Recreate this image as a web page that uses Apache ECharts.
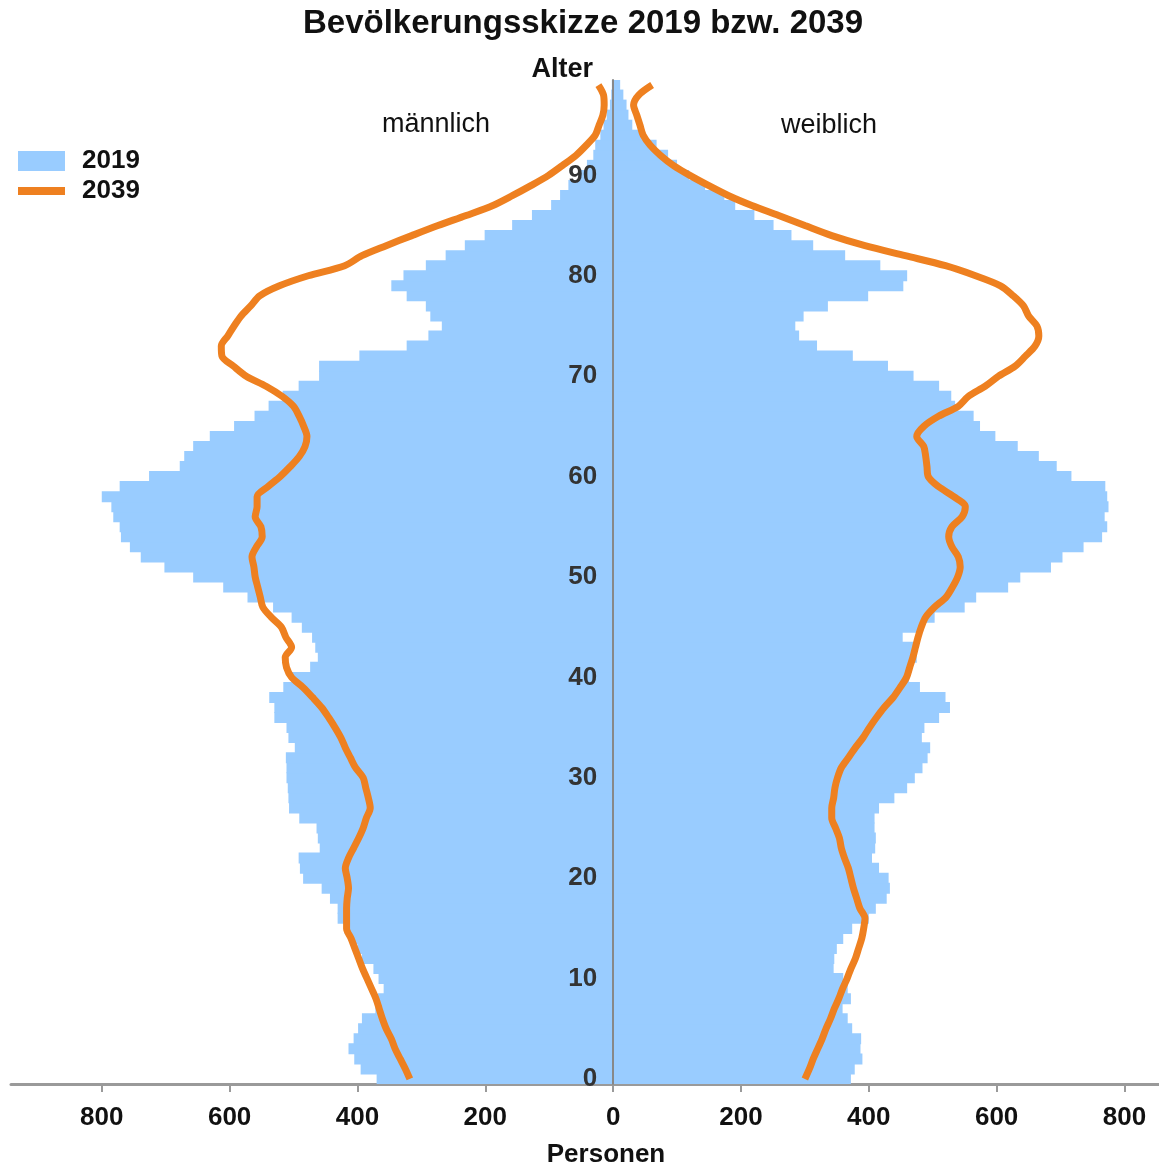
<!DOCTYPE html>
<html lang="de">

<head>
    <meta charset="UTF-8">
    <title>Bevölkerungsskizze 2019 bzw. 2039</title>
    <script src="https://cdn.jsdelivr.net/npm/echarts@6.0.0/dist/echarts.min.js"></script>
    <style>
        html, body { margin: 0; padding: 0; background: #fff; }
        #main { width: 1159px; height: 1165px; }
    </style>
</head>

<body>
    <div id="main"></div>

    <script type="text/javascript">
        // Alter 0..99
        const ages = [];
        for (let i = 0; i < 100; i++) ages.push(String(i));

        // 2019, Personen je Altersjahr
        const male2019 = [
            370, 395, 405, 414, 406, 399, 393, 372, 368, 359,
            367, 375, 393, 400, 408, 420, 431, 431, 443, 456,
            485, 490, 492, 459, 462, 464, 491, 507, 508, 509,
            511, 511, 512, 498, 508, 511, 530, 530, 538, 516,
            503, 474, 462, 466, 471, 487, 503, 532, 572, 610,
            657, 702, 739, 756, 770, 772, 782, 785, 800, 772,
            726, 678, 671, 657, 631, 593, 561, 539, 517, 492,
            460, 460, 397, 323, 289, 268, 286, 293, 323, 347,
            328, 293, 262, 232, 201, 158, 127, 97, 83, 70,
            54, 41, 31, 28, 20, 15, 10, 5, 3, 2
        ];
        const female2019 = [
            372, 378, 390, 387, 388, 374, 367, 359, 372, 367,
            360, 345, 346, 350, 360, 374, 400, 411, 428, 433,
            431, 416, 405, 410, 411, 409, 409, 416, 440, 460,
            472, 484, 492, 496, 483, 487, 510, 527, 520, 480,
            463, 467, 475, 475, 453, 480, 503, 550, 568, 618,
            637, 685, 703, 736, 765, 773, 769, 775, 773, 770,
            717, 694, 666, 633, 598, 574, 564, 535, 529, 510,
            470, 430, 375, 319, 291, 285, 298, 336, 399, 454,
            460, 418, 363, 313, 279, 251, 221, 191, 174, 144,
            119, 100, 86, 68, 45, 30, 24, 21, 16, 11
        ];

        // 2039 (Vorausberechnung)
        const male2039 = [
            318, 325, 333, 341, 347, 355, 361, 366, 371, 378,
            385, 392, 398, 404, 410, 417, 417, 417, 416, 414,
            416, 419, 414, 406, 398, 391, 386, 380, 383, 387,
            391, 403, 411, 419, 426, 435, 445, 456, 470, 485,
            503, 511, 513, 503, 512, 519, 535, 548, 552, 556,
            560, 562, 565, 558, 549, 551, 560, 557, 557, 540,
            521, 505, 491, 482, 479, 484, 491, 500, 518, 543,
            574, 594, 612, 613, 603, 593, 582, 567, 553, 522,
            477, 420, 393, 355, 315, 274, 230, 188, 157, 128,
            101, 79, 58, 42, 28, 22, 16, 14, 15, 23
        ];
        const female2039 = [
            300, 307, 313, 320, 327, 333, 340, 346, 353, 359,
            366, 372, 379, 384, 389, 392, 394, 386, 381, 376,
            372, 368, 362, 357, 354, 348, 342, 342, 345, 347,
            351, 357, 368, 379, 391, 401, 412, 424, 438, 449,
            459, 464, 469, 473, 477, 482, 489, 503, 521, 531,
            539, 543, 540, 530, 525, 530, 546, 551, 533, 509,
            493, 491, 489, 486, 475, 486, 509, 540, 556, 582,
            603, 629, 645, 660, 666, 663, 650, 642, 626, 606,
            567, 520, 457, 394, 342, 300, 259, 217, 180, 149,
            120, 94, 74, 58, 47, 42, 37, 32, 40, 61
        ];

        const xTicks = [-800, -600, -400, -200, 0, 200, 400, 600, 800];

        const font = 'Liberation Sans, Arial, sans-serif';
        const blue = '#99ccff';
        const orange = '#ee8020';

        // x-Achse von -942 bis 854, Nullpunkt liegt 602px rechts vom Gitterrand
        const xMin = -942, xMax = 854;
        const gridLeft = 11, gridRight = 0;
        const zeroOffset = (1159 - gridLeft - gridRight) * (-xMin) / (xMax - xMin);

        var myChart = echarts.init(document.getElementById('main'));

        option = {
            animation: false,
            textStyle: { fontFamily: font },
            title: {
                text: 'Bevölkerungsskizze 2019 bzw. 2039',
                left: 298,
                top: 2,
                textStyle: { fontSize: 33, fontWeight: 'bold', color: '#111', fontFamily: font }
            },
            legend: {
                orient: 'vertical',
                left: 18,
                top: 146,
                padding: 0,
                itemWidth: 47,
                itemHeight: 20,
                itemGap: 0,
                data: [
                    { name: '2019', icon: 'rect' },
                    { name: '2039', icon: 'path://M0,0L47,0L47,8L0,8Z', itemStyle: { color: orange } }
                ],
                textStyle: { fontSize: 26, lineHeight: 30, fontWeight: 'bold', color: '#111', fontFamily: font, padding: [0, 0, 0, 12] }
            },
            grid: {
                left: gridLeft,
                right: gridRight,
                top: 80,
                bottom: 81,
                containLabel: false,
                outerBoundsMode: 'none'
            },
            xAxis: {
                type: 'value',
                min: xMin,
                max: xMax,
                name: 'Personen',
                nameLocation: 'middle',
                nameGap: 58,
                nameTextStyle: { fontSize: 26, fontWeight: 'bold', color: '#111', fontFamily: font, padding: [0, 0, 0, 42] },
                axisLine: { show: true, onZero: false, lineStyle: { color: '#9a9a9a', width: 3 } },
                axisTick: { show: true, customValues: xTicks, length: 8, lineStyle: { color: '#9a9a9a', width: 2 } },
                axisLabel: {
                    customValues: xTicks,
                    margin: 21,
                    fontSize: 26,
                    fontWeight: 'bold',
                    color: '#111',
                    fontFamily: font,
                    formatter: (v) => Math.abs(v)
                },
                splitLine: { show: false }
            },
            yAxis: {
                type: 'category',
                data: ages,
                z: 10,
                offset: -zeroOffset,
                name: 'Alter',
                nameLocation: 'end',
                nameGap: -3,
                nameTextStyle: { fontSize: 27, fontWeight: 'bold', color: '#111', fontFamily: font, align: 'right', padding: [0, 20, 0, 0] },
                axisLine: { show: true, onZero: false, lineStyle: { color: '#888', width: 2 } },
                axisTick: { show: false },
                axisLabel: {
                    interval: 9,
                    margin: 16,
                    fontSize: 26,
                    fontWeight: 'bold',
                    color: '#333',
                    fontFamily: font,
                    padding: [6, 0, 0, 0]
                },
                splitLine: { show: false }
            },
            graphic: [
                { type: 'text', left: 382, top: 111, style: { text: 'männlich', fontSize: 27, fill: '#111', fontFamily: font } },
                { type: 'text', left: 781, top: 112, style: { text: 'weiblich', fontSize: 27, fill: '#111', fontFamily: font } }
            ],
            series: [
                {
                    name: '2019',
                    type: 'bar',
                    barGap: '-100%',
                    barWidth: 11,
                    itemStyle: { color: blue },
                    data: male2019.map((v) => -v)
                },
                {
                    name: '2019',
                    type: 'bar',
                    barGap: '-100%',
                    barWidth: 11,
                    itemStyle: { color: blue },
                    data: female2019
                },
                {
                    name: '2039',
                    type: 'line',
                    smooth: 0.3,
                    symbol: 'none',
                    z: 12,
                    itemStyle: { color: orange },
                    lineStyle: { color: orange, width: 7 },
                    data: male2039.map((v) => -v)
                },
                {
                    name: '2039',
                    type: 'line',
                    smooth: 0.3,
                    symbol: 'none',
                    z: 12,
                    itemStyle: { color: orange },
                    lineStyle: { color: orange, width: 7 },
                    data: female2039
                }
            ]
        };

        myChart.setOption(option);
    </script>
</body>

</html>
